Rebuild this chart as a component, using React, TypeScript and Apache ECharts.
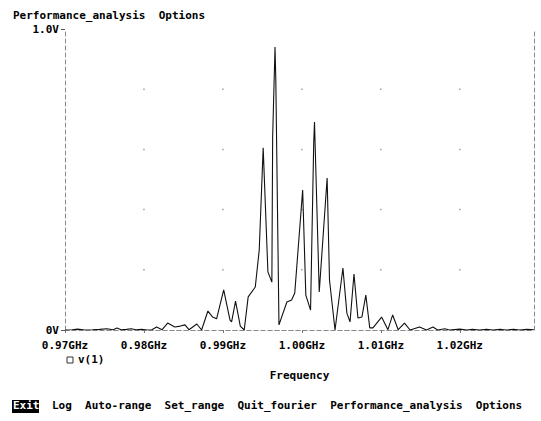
import React, { useEffect, useRef } from "react";
import * as echarts from "echarts";

// Frequency (GHz) and amplitude (V) of the Fourier trace v(1)
const freqGHz = [
  0.97, 0.9709, 0.9716, 0.9725, 0.9735, 0.9744, 0.9753, 0.9761, 0.9766, 0.9771,
  0.9778, 0.9784, 0.979, 0.9797, 0.9804, 0.981, 0.9816, 0.9823, 0.983, 0.9839,
  0.9846, 0.9852, 0.9857, 0.9867, 0.9873, 0.9881, 0.9887, 0.9892, 0.9901, 0.9909,
  0.9911, 0.9916, 0.9922, 0.9927, 0.9932, 0.9941, 0.9946, 0.9951, 0.9957, 0.9962,
  0.9963, 0.9966, 0.9967, 0.9971, 0.9981, 0.9987, 0.9991, 1.0001, 1.0005, 1.0011,
  1.0015, 1.0016, 1.0022, 1.0032, 1.0035, 1.0042, 1.0052, 1.0057, 1.0061, 1.0066,
  1.0071, 1.0076, 1.0081, 1.0086, 1.009, 1.0101, 1.0109, 1.0115, 1.0122, 1.013,
  1.0137, 1.0149, 1.0158, 1.0166, 1.0172, 1.0181, 1.0187, 1.02, 1.0209, 1.0216,
  1.0225, 1.0234, 1.0242, 1.0251, 1.0259, 1.0268, 1.0276, 1.0285, 1.0294,
];
const voltage = [
  0.0, 0.001, 0.003, 0.0, 0.001, 0.002, 0.004, 0.001, 0.007, 0.001,
  0.002, 0.004, 0.001, 0.002, 0.0, 0.001, 0.01, 0.001, 0.023, 0.01,
  0.013, 0.017, 0.001, 0.02, 0.0, 0.063, 0.043, 0.037, 0.133, 0.033,
  0.027, 0.096, 0.013, 0.0, 0.11, 0.143, 0.266, 0.605, 0.193, 0.159,
  0.641, 0.94, 0.831, 0.017, 0.093, 0.1, 0.123, 0.465, 0.116, 0.066,
  0.621, 0.691, 0.126, 0.505, 0.166, 0.0, 0.206, 0.056, 0.027, 0.186,
  0.04, 0.043, 0.116, 0.007, 0.007, 0.043, 0.001, 0.05, 0.001, 0.023,
  0.0, 0.01, 0.0, 0.01, 0.0, 0.004, 0.0, 0.003, 0.0, 0.002,
  0.0, 0.002, 0.0, 0.002, 0.0, 0.002, 0.0, 0.002, 0.001,
];

const xMin = 0.97;
const xMax = 1.0294;
const xStep = 0.01;
const gridDotX = [0.98, 0.99, 1.0, 1.01, 1.02];
const gridDotY = [0.2, 0.4, 0.6, 0.8];

const menuTop = "Performance_analysis  Options";
const menuFirst = "Exit";
const menuItems = ["Log", "Auto-range", "Set_range", "Quit_fourier", "Performance_analysis", "Options"];
const seriesName = "v(1)";
const xTitle = "Frequency";

const FONT = "'DejaVu Sans Mono', 'Liberation Mono', monospace";
const W = "bold";

export default function App() {
  const ref = useRef<HTMLDivElement>(null);

  useEffect(() => {
    if (!ref.current) return;
    const chart = echarts.init(ref.current, null, { renderer: "svg" });
    const lineData = freqGHz.map((f, i) => [f, voltage[i]]);
    const dots: number[][] = [];
    gridDotX.forEach((x) => gridDotY.forEach((y) => dots.push([x, y])));

    const dashed = { color: "#8a8a8a", width: 1, type: [4, 3] as any };

    chart.setOption({
      animation: false,
      backgroundColor: "#ffffff",
      textStyle: { fontFamily: FONT, color: "#000" },
      grid: { left: 65, top: 29, right: 7, bottom: 91, containLabel: false },
      xAxis: [
        {
          type: "value",
          min: xMin,
          max: xMax,
          interval: xStep,
          name: xTitle,
          nameLocation: "middle",
          nameGap: 40,
          nameTextStyle: { fontFamily: FONT, fontSize: 11, fontWeight: W, color: "#000" },
          axisLine: { show: true, onZero: false, lineStyle: dashed },
          axisTick: { show: true, length: 3, lineStyle: { color: "#777" } },
          axisLabel: {
            fontFamily: FONT,
            fontSize: 11,
            fontWeight: W,
            color: "#000",
            margin: 10,
            showMaxLabel: false,
            formatter: (v: number) => v.toFixed(2) + "GHz",
          },
          splitLine: { show: false },
        },
        {
          type: "value",
          position: "top",
          min: xMin,
          max: xMax,
          axisLine: { show: true, lineStyle: dashed },
          axisTick: { show: false },
          axisLabel: { show: false },
          splitLine: { show: false },
        },
      ],
      yAxis: [
        {
          type: "value",
          min: 0,
          max: 1,
          interval: 1,
          axisLine: { show: true, onZero: false, lineStyle: dashed },
          axisTick: { show: true, length: 4, lineStyle: { color: "#555" } },
          axisLabel: {
            fontFamily: FONT,
            fontSize: 11,
            fontWeight: W,
            color: "#000",
            margin: 6,
            formatter: (v: number) => (v === 0 ? "0V" : v.toFixed(1) + "V"),
          },
          splitLine: { show: false },
        },
        {
          type: "value",
          position: "right",
          min: 0,
          max: 1,
          axisLine: { show: true, lineStyle: dashed },
          axisTick: { show: false },
          axisLabel: { show: false },
          splitLine: { show: false },
        },
      ],
      series: [
        {
          type: "scatter",
          data: dots,
          symbol: "rect",
          symbolSize: 1.5,
          itemStyle: { color: "#888" },
          silent: true,
        },
        {
          type: "line",
          name: seriesName,
          data: lineData,
          showSymbol: false,
          symbol: "none",
          lineStyle: { color: "#111", width: 1.1 },
        },
      ],
      graphic: [
        {
          type: "text",
          left: 13,
          top: 10,
          style: { text: menuTop, font: `${W} 11px ${FONT}`, fill: "#000" },
        },
        {
          type: "rect",
          shape: { x: 67, y: 357, width: 6, height: 6 },
          style: { fill: "none", stroke: "#333", lineWidth: 1 },
        },
        {
          type: "text",
          left: 78,
          top: 354,
          style: { text: seriesName, font: `${W} 11px ${FONT}`, fill: "#000" },
        },
        {
          type: "rect",
          shape: { x: 12, y: 400, width: 27, height: 13 },
          style: { fill: "#000" },
        },
        {
          type: "text",
          left: 13,
          top: 400,
          style: { text: menuFirst, font: `${W} 11px ${FONT}`, fill: "#fff" },
        },
        {
          type: "text",
          left: 52,
          top: 400,
          style: { text: menuItems.join("  "), font: `${W} 11px ${FONT}`, fill: "#000" },
        },
      ],
    });
    return () => chart.dispose();
  }, []);

  return (
    <div
      ref={ref}
      style={{ position: "fixed", left: 0, top: 0, width: 541, height: 421 }}
    />
  );
}
